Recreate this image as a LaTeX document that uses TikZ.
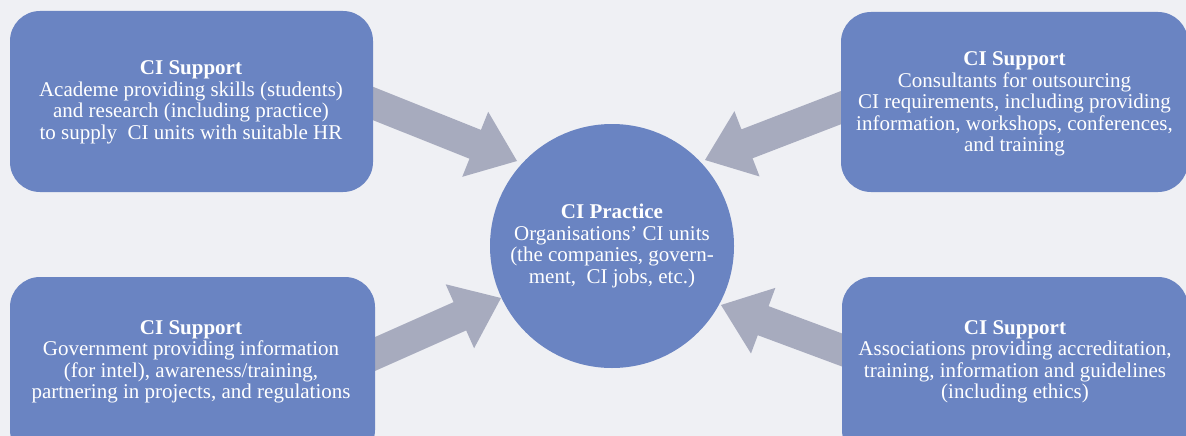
\documentclass[tikz,border=0pt]{standalone}
\usepackage{fontspec}
\setmainfont{Liberation Serif}
\usetikzlibrary{calc}
\definecolor{bg}{RGB}{239,240,244}
\definecolor{boxblue}{RGB}{106,132,194}
\definecolor{arrowgray}{RGB}{167,171,190}
\tikzset{
  supportbox/.style={fill=boxblue, rounded corners=30pt, inner sep=0pt, draw=none},
  boxtext/.style={text=white, align=center, inner sep=0pt, font=\fontsize{21}{21.5}\selectfont},
  hub/.style={circle, fill=boxblue, minimum size=244pt, inner sep=0pt, text=white, align=center, font=\fontsize{21}{21.5}\selectfont},
  blockarrow/.style={fill=arrowgray, draw=none}
}
\newcommand\bigarrow[2]{%
  \coordinate (#1b) at ($(#2)!45pt!(#1)$);
  \fill[blockarrow] ($(#1)!15.5pt!90:(#2)$) -- ($(#1b)!15.5pt!90:(#2)$) -- ($(#1b)!35pt!90:(#2)$) -- (#2) -- ($(#1b)!35pt!-90:(#2)$) -- ($(#1b)!15.5pt!-90:(#2)$) -- ($(#1)!15.5pt!-90:(#2)$) -- cycle;}
\begin{document}
\begin{tikzpicture}[x=1pt, y=-1pt]
\useasboundingbox (0,0) rectangle (1186,436);
\fill[bg] (0,0) rectangle (1186,436);
\begin{scope}
\clip (0,0) rectangle (1186,436);
% arrow ends
\coordinate (s1) at (330,86.3);
\coordinate (t1) at (517,161);
\coordinate (s2) at (880,92.6);
\coordinate (t2) at (705,160);
\coordinate (s3) at (330,374);
\coordinate (t3) at (501,298);
\coordinate (s4) at (880,364.1);
\coordinate (t4) at (721,305);
\bigarrow{s1}{t1}
\bigarrow{s2}{t2}
\bigarrow{s3}{t3}
\bigarrow{s4}{t4}
% boxes
\node[supportbox, minimum width=363pt, minimum height=181pt] (tlbox) at (191.5,101.5) {};
\node[supportbox, minimum width=347pt, minimum height=180pt] (trbox) at (1014.5,102) {};
\node[supportbox, minimum width=365pt, minimum height=183pt] (blbox) at (192.5,368.5) {};
\node[supportbox, minimum width=346pt, minimum height=183pt] (brbox) at (1015,368.5) {};
\node[boxtext] (tltext) at (191,102.5) {\textbf{CI Support}\\Academe providing skills (students)\\and research (including practice)\\to supply~ CI units with suitable HR};
\node[boxtext] (trtext) at (1014.5,104) {\textbf{CI Support}\\Consultants for outsourcing\\CI requirements, including providing\\information, workshops, conferences,\\and training};
\node[boxtext] (bltext) at (191,362) {\textbf{CI Support}\\Government providing information\\(for intel), awareness/training,\\partnering in projects, and regulations};
\node[boxtext] (brtext) at (1015,362) {\textbf{CI Support}\\Associations providing accreditation,\\training, information and guidelines\\(including ethics)};
% hub
\node[hub] (hub) at (612,246) {\textbf{CI Practice}\\Organisations’ CI units\\(the companies, govern-\\ment,~ CI jobs, etc.)};
\end{scope}
\end{tikzpicture}
\end{document}
